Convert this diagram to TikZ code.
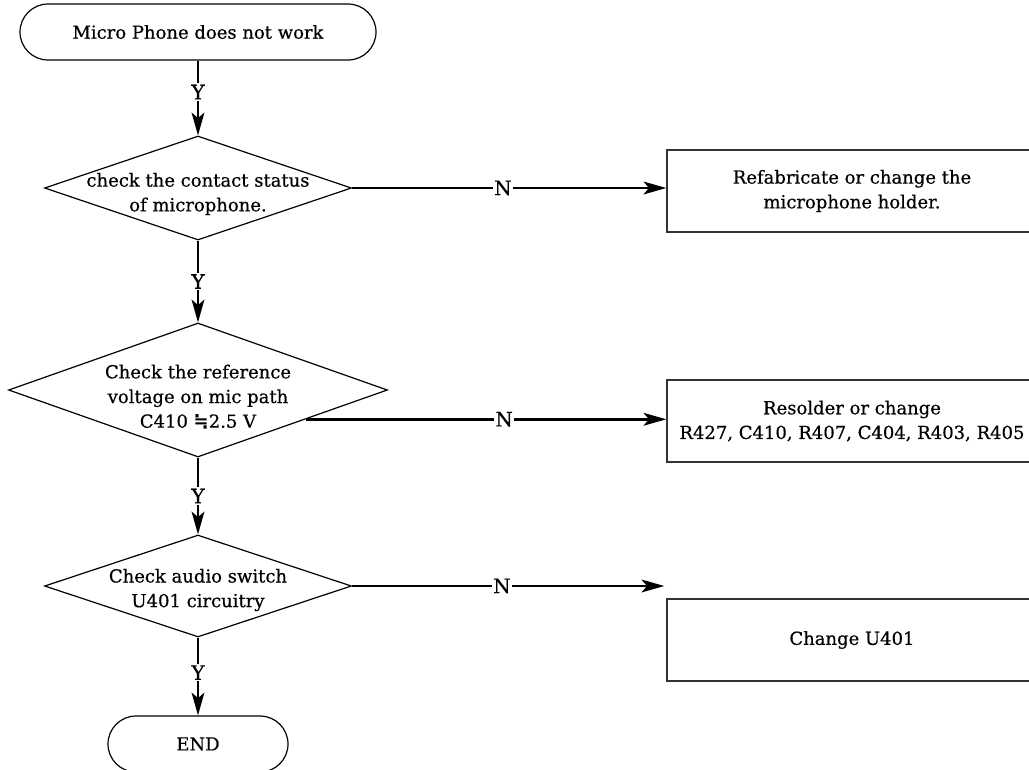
\documentclass[tikz,border=0pt]{standalone}
\usepackage{fontspec}
\setmainfont{DejaVu Serif}[BoldFont={DejaVu Serif}, BoldFeatures={FakeBold=0.5}]
\newfontfamily\symfont{DejaVu Sans}
\usetikzlibrary{shapes.geometric,shapes.misc,arrows.meta,calc}
\begin{document}
\begin{tikzpicture}[x=0.75pt,y=-0.75pt,
  every node/.style={font=\fontsize{13.5pt}{18.5pt}\selectfont\bfseries},
  term/.style={draw, line width=0.9pt, rounded rectangle, minimum height=42pt, inner sep=0pt},
  dia/.style={draw, diamond, line width=0.9pt, inner sep=0pt},
  txt/.style={align=center, inner sep=0pt},
  act/.style={draw=black!80, line width=1pt, minimum width=277.5pt, minimum height=61.5pt, inner sep=0pt, align=center},
  conn/.style={line width=2.1pt, -{Stealth[length=17pt,width=9.5pt,inset=4pt]}},
  yn/.style={fill=white, inner sep=1pt, font=\fontsize{15pt}{16pt}\selectfont\bfseries}
]
\useasboundingbox (0,0) rectangle (1029,769);

\node[term, minimum width=267pt] (start) at (198,32) {Micro Phone does not work};

\node[dia, minimum width=230.25pt, minimum height=78pt] (d1) at (198,188) {};
\node[txt] (t1) at (198,194) {check the contact status\\of microphone.};
\node[act] (b1) at (852,191) {Refabricate or change the\\microphone holder.};

\node[dia, minimum width=284.25pt, minimum height=100.5pt] (d2) at (198,390) {};
\node[txt] (t2) at (198,397) {Check the reference\\voltage on mic path\\C410 {\symfont ≒}2.5 V};
\node[act] (b2) at (852,421) {Resolder or change\\R427, C410, R407, C404, R403, R405};

\node[dia, minimum width=230.25pt, minimum height=76.5pt] (d3) at (198,586) {};
\node[txt] (t3) at (198,590) {Check audio switch\\U401 circuitry};
\node[act] (b3) at (852,640) {Change U401};

\node[term, minimum width=135pt] (end) at (198,744) {END};

\draw[conn] (start.south) -- node[yn,pos=0.42]{Y} (d1.north);
\draw[conn] (d1.south) -- node[yn]{Y} (d2.north);
\draw[conn] (d2.south) -- node[yn]{Y} (d3.north);
\draw[conn] (d3.south) -- node[yn,pos=0.45]{Y} (end.north);

\draw[conn] (d1.east) -- node[yn,pos=0.48]{N} (d1.east -| b1.west);
\coordinate (s2) at ($(d2.east)!0.433!(d2.south)$);
\draw[conn] (s2) -- node[yn,pos=0.55]{N} (s2 -| b2.west);
\coordinate (e3) at ($(d3.east -| b3.west)+(-2,0)$);
\draw[conn] (d3.east) -- node[yn,pos=0.48]{N} (e3);
\end{tikzpicture}
\end{document}
